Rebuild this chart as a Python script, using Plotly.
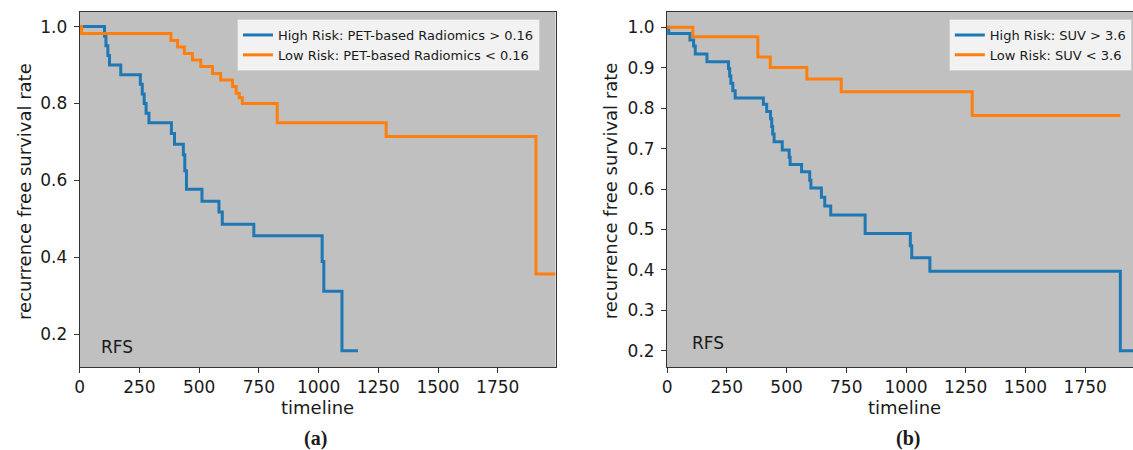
import plotly.graph_objects as go

W, H = 1133, 450
TOP, BOT = 12, 367  # plot-area pixel rows

# ---- data (a): PET-based radiomics ----
t_hi_a = [0, 104, 110, 118, 125, 172, 254, 262, 270, 278, 290, 384, 397, 434, 440, 447,
          512, 583, 597, 729, 1015, 1022, 1098, 1165]
s_hi_a = [1.0, 0.975, 0.95, 0.925, 0.9, 0.875, 0.85, 0.825, 0.8, 0.775, 0.75, 0.722, 0.694,
          0.667, 0.625, 0.577, 0.546, 0.518, 0.486, 0.456, 0.389, 0.312, 0.157, 0.157]
t_lo_a = [0, 8, 382, 410, 438, 472, 507, 556, 590, 640, 655, 668, 681, 827, 1283, 1910, 1992]
s_lo_a = [1.0, 0.982, 0.964, 0.947, 0.930, 0.913, 0.896, 0.878, 0.861, 0.844, 0.827, 0.815,
          0.8, 0.75, 0.714, 0.357, 0.357]

# ---- data (b): SUV ----
t_hi_b = [0, 7, 96, 111, 118, 167, 257, 262, 267, 275, 285, 403, 417, 433, 438, 442, 448,
          482, 511, 515, 563, 597, 602, 646, 660, 685, 829, 1018, 1024, 1100, 1897, 1950]
s_hi_b = [1.0, 0.985, 0.969, 0.954, 0.934, 0.915, 0.898, 0.88, 0.862, 0.843, 0.825, 0.81,
          0.792, 0.774, 0.755, 0.736, 0.717, 0.697, 0.679, 0.661, 0.643, 0.622, 0.603, 0.58,
          0.558, 0.536, 0.49, 0.46, 0.43, 0.397, 0.2, 0.2]
t_lo_b = [0, 108, 380, 432, 585, 729, 1277, 1897]
s_lo_b = [1.0, 0.977, 0.927, 0.901, 0.872, 0.841, 0.782, 0.782]

names_a = ["High Risk: PET-based Radiomics > 0.16", "Low Risk: PET-based Radiomics < 0.16"]
names_b = ["High Risk: SUV > 3.6", "Low Risk: SUV < 3.6"]
x_ticks = [0, 250, 500, 750, 1000, 1250, 1500, 1750]
y_ticks_a = [0.2, 0.4, 0.6, 0.8, 1.0]
y_ticks_b = [0.2, 0.3, 0.4, 0.5, 0.6, 0.7, 0.8, 0.9, 1.0]

BLUE = "#1f77b4"
ORANGE = "#ff7f0e"
FONT = "DejaVu Sans"
TXT = "#1a1a1a"


def px_x(xp):
    return xp / W


def px_y(yp):
    return (BOT - yp) / (BOT - TOP)


fig = go.Figure()
fig.add_trace(go.Scatter(x=t_hi_a, y=s_hi_a, mode="lines", line=dict(color=BLUE, width=3, shape="hv"),
                         name=names_a[0], xaxis="x", yaxis="y", legend="legend"))
fig.add_trace(go.Scatter(x=t_lo_a, y=s_lo_a, mode="lines", line=dict(color=ORANGE, width=3, shape="hv"),
                         name=names_a[1], xaxis="x", yaxis="y", legend="legend"))
fig.add_trace(go.Scatter(x=t_hi_b, y=s_hi_b, mode="lines", line=dict(color=BLUE, width=3, shape="hv"),
                         name=names_b[0], xaxis="x2", yaxis="y2", legend="legend2"))
fig.add_trace(go.Scatter(x=t_lo_b, y=s_lo_b, mode="lines", line=dict(color=ORANGE, width=3, shape="hv"),
                         name=names_b[1], xaxis="x2", yaxis="y2", legend="legend2"))

axis_common = dict(showgrid=False, zeroline=False, showline=True, linecolor="#333333", linewidth=1,
                   ticks="outside", ticklen=5, tickwidth=1, tickcolor="#333333",
                   tickfont=dict(family=FONT, size=17, color=TXT))

legend_common = dict(xanchor="left", yanchor="top",
                     bgcolor="rgba(242,242,242,1)", bordercolor="#d0d0d0", borderwidth=1,
                     font=dict(family=FONT, size=13, color=TXT), tracegroupgap=0)

fig.update_layout(
    width=W, height=H,
    margin=dict(l=0, r=0, t=TOP, b=H - BOT),
    paper_bgcolor="white", plot_bgcolor="#c0c0c0",
    xaxis=dict(domain=[75 / W, 553 / W], range=[0, 1992], tickvals=x_ticks, mirror=True,
               anchor="y", **axis_common),
    yaxis=dict(domain=[0, 1], range=[0.115, 1.038], tickvals=y_ticks_a, tickformat=".1f",
               mirror=True, anchor="x", ticklabelstandoff=3, **axis_common),
    xaxis2=dict(domain=[665 / W, 1.0], range=[0, 1950], tickvals=x_ticks, mirror=True,
                anchor="y2", **axis_common),
    yaxis2=dict(domain=[0, 1], range=[0.16, 1.038], tickvals=y_ticks_b, tickformat=".1f",
                mirror=False, anchor="x2", ticklabelstandoff=3, **axis_common),
    legend=dict(x=px_x(233), y=px_y(19), **legend_common),
    legend2=dict(x=px_x(948), y=px_y(19), **legend_common),
    showlegend=True,
)


def ann(text, xp, yp, size, angle=0, xanchor="center", family=FONT):
    fig.add_annotation(text=text, x=px_x(xp), y=px_y(yp), xref="paper", yref="paper",
                       showarrow=False, textangle=angle, xanchor=xanchor, yanchor="middle",
                       font=dict(family=family, size=size, color=TXT))


ann("recurrence free survival rate", 19, 191, 18, angle=-90)
ann("recurrence free survival rate", 608, 191, 18, angle=-90)
ann("timeline", 314, 407, 18)
ann("timeline", 903, 407, 18)
ann("<b>(a)</b>", 312, 438, 20, family="Liberation Serif")
ann("<b>(b)</b>", 907, 438, 20, family="Liberation Serif")
ann("RFS", 94, 347, 17, xanchor="left")
ann("RFS", 688, 343, 17, xanchor="left")

fig.write_html("out.html")
